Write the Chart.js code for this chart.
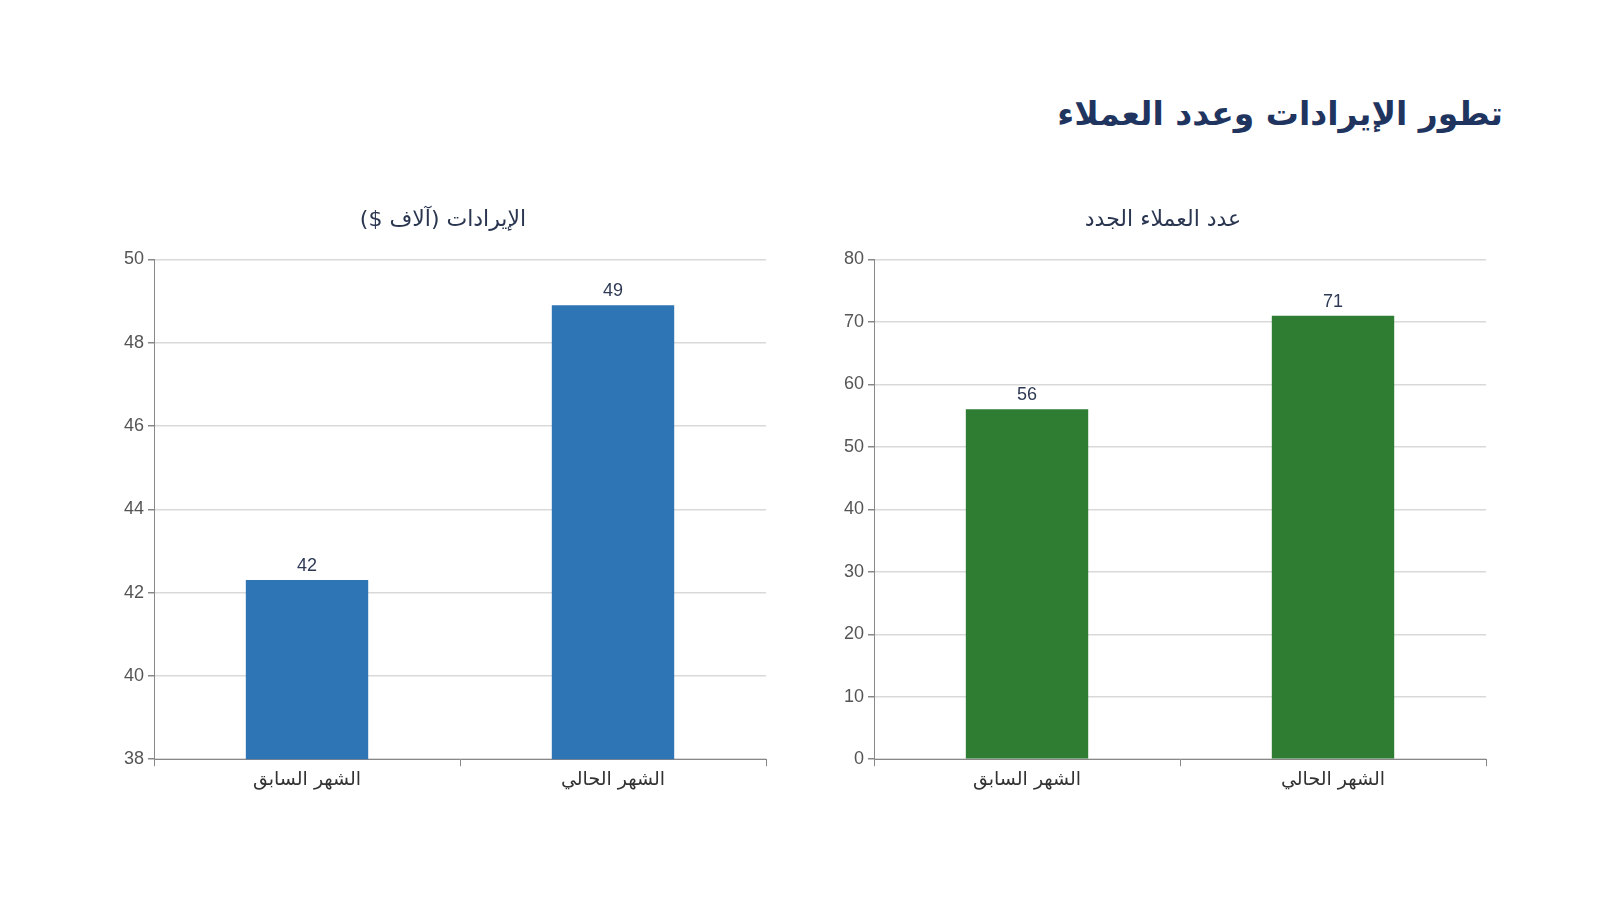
<!DOCTYPE html>
<html lang="ar">
<head>
<meta charset="utf-8">
<script src="https://cdn.jsdelivr.net/npm/chart.js@4.4.1/dist/chart.umd.min.js"></script>
<style>
  html, body { margin:0; padding:0; background:#fff; width:1601px; height:900px; overflow:hidden; }
  #title { position:absolute; right:98px; top:94px; font-family:"DejaVu Sans", sans-serif; font-weight:bold; font-size:33px; color:#1f3560; direction:rtl; margin:0; }
  .box { position:absolute; }
  #c1box { left:120px; top:203px; width:658px; height:590px; }
  #c2box { left:840px; top:203px; width:658px; height:590px; }
</style>
</head>
<body>
<h1 id="title">تطور الإيرادات وعدد العملاء</h1>
<div class="box" id="c1box"><canvas id="c1"></canvas></div>
<div class="box" id="c2box"><canvas id="c2"></canvas></div>
<script>
const categories = ["الشهر السابق", "الشهر الحالي"];
const revenueValues = [42.3, 48.9];
const customerValues = [56, 71];
const revenueTitle = "الإيرادات (آلاف $)";
const customerTitle = "عدد العملاء الجدد";

const valueLabels = {
  id: 'valueLabels',
  afterDatasetsDraw(chart) {
    const ctx = chart.ctx;
    ctx.save();
    ctx.font = '18px "Liberation Sans", Arial, sans-serif';
    ctx.fillStyle = '#2e3a55';
    ctx.textAlign = 'center';
    ctx.textBaseline = 'bottom';
    chart.data.datasets.forEach((ds, i) => {
      chart.getDatasetMeta(i).data.forEach((bar, j) => {
        ctx.fillText(String(Math.round(ds.data[j])), bar.x, bar.y - 5);
      });
    });
    ctx.restore();
  }
};

function makeChart(id, values, color, title, min, max, step) {
  return new Chart(document.getElementById(id), {
    type: 'bar',
    data: { labels: categories, datasets: [{ data: values, backgroundColor: color, barPercentage: 0.4, categoryPercentage: 1.0 }] },
    options: {
      responsive: true, maintainAspectRatio: false, animation: false,
      layout: { padding: { left: 0, right: 12, top: 0, bottom: 0 } },
      plugins: {
        legend: { display: false }, tooltip: { enabled: false },
        title: { display: true, text: title, color: '#2a3550', font: { family: '"DejaVu Sans", sans-serif', size: 22, weight: 'normal' }, padding: { top: 4, bottom: 26 } }
      },
      scales: {
        x: {
          grid: { drawOnChartArea: false, offset: true, tickColor: '#888', tickLength: 7 },
          border: { color: '#888' },
          ticks: { color: '#333', font: { family: '"DejaVu Sans", sans-serif', size: 19 }, padding: 2 }
        },
        y: {
          min: min, max: max,
          grid: { color: '#d9d9d9', tickColor: '#888', tickLength: 6, lineWidth: 1.5 },
          border: { color: '#888' },
          ticks: { stepSize: step, color: '#555', font: { family: '"Liberation Sans", Arial, sans-serif', size: 18 }, padding: 4 }
        }
      }
    },
    plugins: [valueLabels]
  });
}

makeChart('c1', revenueValues, '#2e75b6', revenueTitle, 38, 50, 2);
makeChart('c2', customerValues, '#2e7d32', customerTitle, 0, 80, 10);
</script>
</body>
</html>
